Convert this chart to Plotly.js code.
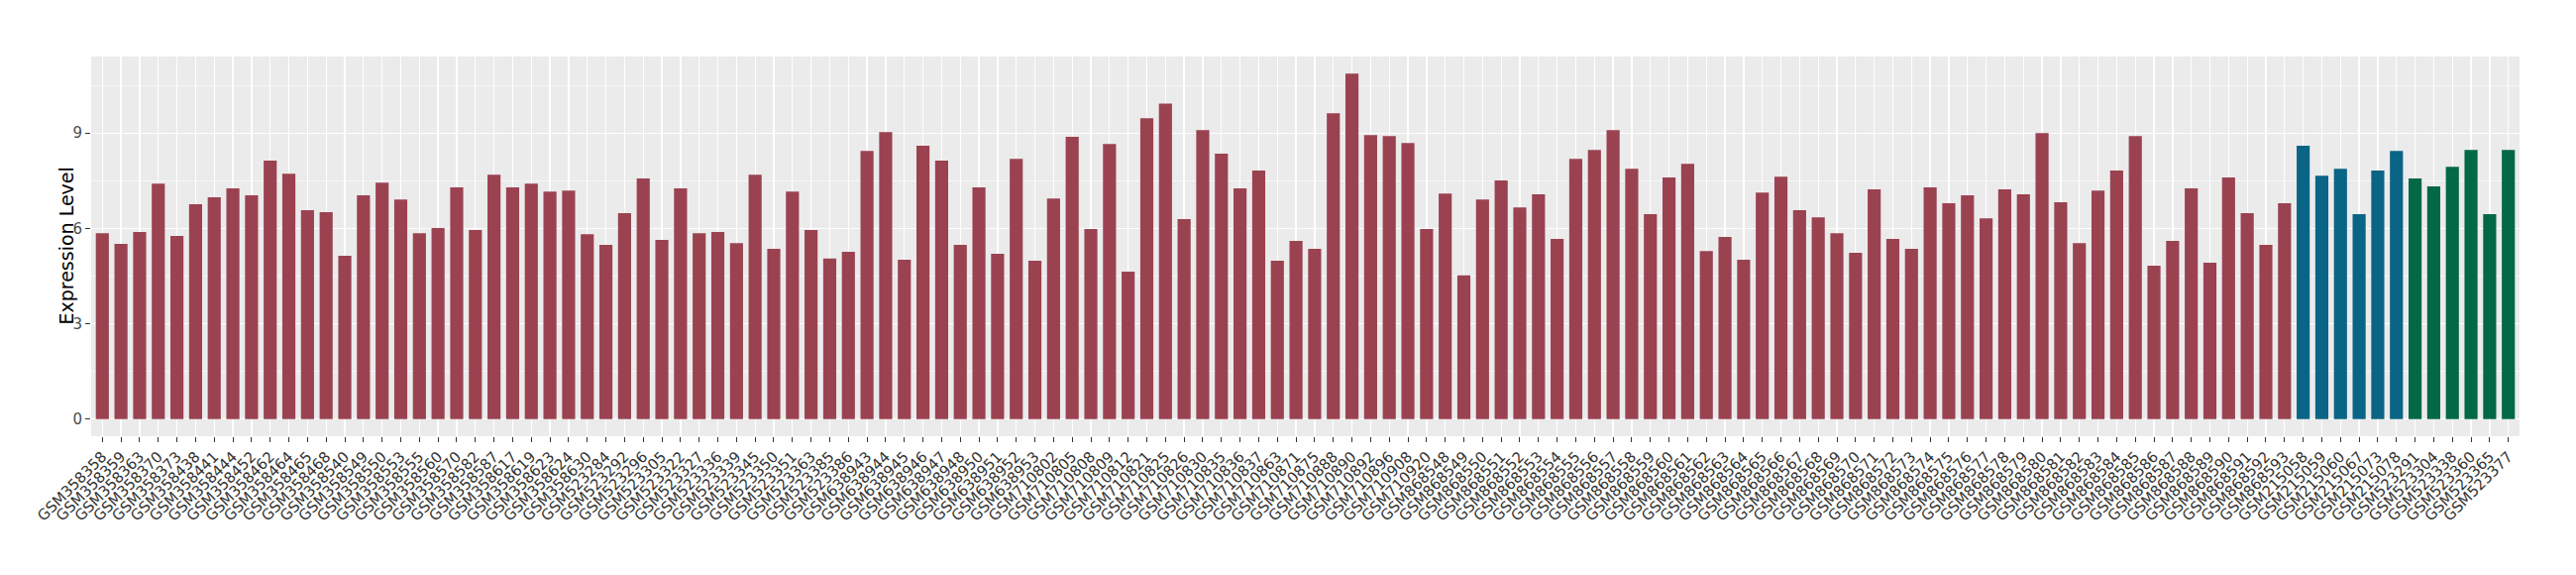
<!DOCTYPE html>
<html>
<head>
<meta charset="utf-8">
<script src="https://cdn.plot.ly/plotly-3.0.1.min.js"></script>
<style>
  html, body { margin: 0; padding: 0; background: #ffffff; }
  #chart { width: 2600px; height: 580px; }
</style>
</head>
<body>
<div id="chart"></div>
<script>
// Sample identifiers (x categories)
const samples = [
  "GSM358358","GSM358359","GSM358363","GSM358370","GSM358373","GSM358438","GSM358441","GSM358444","GSM358452","GSM358462",
  "GSM358464","GSM358465","GSM358468","GSM358540","GSM358549","GSM358550","GSM358553","GSM358555","GSM358560","GSM358570",
  "GSM358582","GSM358587","GSM358617","GSM358619","GSM358623","GSM358624","GSM358630","GSM523284","GSM523292","GSM523296",
  "GSM523305","GSM523322","GSM523327","GSM523336","GSM523339","GSM523345","GSM523350","GSM523351","GSM523363","GSM523385",
  "GSM523386","GSM638943","GSM638944","GSM638945","GSM638946","GSM638947","GSM638948","GSM638950","GSM638951","GSM638952",
  "GSM638953","GSM710802","GSM710805","GSM710808","GSM710809","GSM710812","GSM710821","GSM710825","GSM710826","GSM710830",
  "GSM710835","GSM710836","GSM710837","GSM710863","GSM710871","GSM710875","GSM710888","GSM710890","GSM710892","GSM710896",
  "GSM710908","GSM710920","GSM868548","GSM868549","GSM868550","GSM868551","GSM868552","GSM868553","GSM868554","GSM868555",
  "GSM868556","GSM868557","GSM868558","GSM868559","GSM868560","GSM868561","GSM868562","GSM868563","GSM868564","GSM868565",
  "GSM868566","GSM868567","GSM868568","GSM868569","GSM868570","GSM868571","GSM868572","GSM868573","GSM868574","GSM868575",
  "GSM868576","GSM868577","GSM868578","GSM868579","GSM868580","GSM868581","GSM868582","GSM868583","GSM868584","GSM868585",
  "GSM868586","GSM868587","GSM868588","GSM868589","GSM868590","GSM868591","GSM868592","GSM868593",
  "GSM215058","GSM215059","GSM215060","GSM215067","GSM215073","GSM215078",
  "GSM523291","GSM523304","GSM523338","GSM523360","GSM523365","GSM523377"
];

// Expression level per sample
const expression = [
  5.85,5.51,5.89,7.41,5.76,6.76,6.98,7.26,7.04,8.13,
  7.72,6.57,6.51,5.14,7.04,7.44,6.91,5.85,6.01,7.29,
  5.95,7.69,7.29,7.41,7.16,7.19,5.82,5.48,6.48,7.57,
  5.64,7.26,5.85,5.89,5.54,7.69,5.36,7.16,5.95,5.05,
  5.26,8.44,9.03,5.01,8.60,8.13,5.48,7.29,5.20,8.19,
  4.98,6.94,8.88,5.98,8.66,4.64,9.47,9.93,6.29,9.09,
  8.35,7.26,7.82,4.98,5.61,5.36,9.62,10.87,8.94,8.91,
  8.69,5.98,7.10,4.52,6.91,7.51,6.66,7.07,5.67,8.19,
  8.47,9.09,7.88,6.45,7.60,8.03,5.29,5.73,5.01,7.13,
  7.63,6.57,6.35,5.85,5.23,7.23,5.67,5.36,7.29,6.79,
  7.04,6.32,7.23,7.07,9.00,6.82,5.54,7.19,7.82,8.91,
  4.83,5.61,7.26,4.92,7.60,6.48,5.48,6.79,
  8.60,7.66,7.88,6.45,7.82,8.44,
  7.57,7.32,7.94,8.47,6.45,8.47
];

// Group membership per sample
const groups = [].concat(
  Array(118).fill("A"),
  Array(6).fill("B"),
  Array(6).fill("C")
);

// Y axis tick values / labels
const yTickVals = [0, 3, 6, 9];
const yTickText = ["0", "3", "6", "9"];
const yTitle = "Expression Level";

const groupColors = { A: "#9B4251", B: "#0A6486", C: "#036845" };

const trace = {
  type: "bar",
  x: samples,
  y: expression,
  marker: { color: groups.map(g => groupColors[g]), line: { width: 0 } },
  width: 0.7,
  hoverinfo: "x+y",
  showlegend: false
};

const layout = {
  width: 2600,
  height: 580,
  margin: { l: 92, r: 57, t: 57, b: 140 },
  paper_bgcolor: "#ffffff",
  plot_bgcolor: "#EBEBEB",
  font: { family: "DejaVu Sans, Liberation Sans, sans-serif", color: "#4D4D4D" },
  xaxis: {
    type: "category",
    range: [-0.6, samples.length - 0.4],
    tickangle: -45,
    tickfont: { size: 15, color: "#333333" },
    ticks: "outside",
    ticklen: 5,
    tickcolor: "#333333",
    tickwidth: 1,
    showgrid: true,
    gridcolor: "#FFFFFF",
    gridwidth: 1.3,
    zeroline: false,
    showline: false,
    automargin: false
  },
  yaxis: {
    range: [-0.54, 11.41],
    tickvals: yTickVals,
    ticktext: yTickText,
    tickfont: { size: 15, color: "#4D4D4D" },
    ticks: "outside",
    ticklen: 5,
    tickcolor: "#333333",
    tickwidth: 1,
    showgrid: true,
    gridcolor: "#FFFFFF",
    gridwidth: 1.3,
    minor: { tick0: 1.5, dtick: 3, showgrid: true, gridcolor: "#FFFFFF", gridwidth: 0.6, ticks: "" },
    zeroline: false,
    showline: false,
    automargin: false
  },
  annotations: [{
    text: yTitle,
    xref: "paper", yref: "paper",
    x: -0.0106, y: 0.5,
    xanchor: "center", yanchor: "middle",
    textangle: -90,
    showarrow: false,
    font: { size: 19, color: "#000000" }
  }],
  bargap: 0.3
};

Plotly.newPlot("chart", [trace], layout, { staticPlot: true, displayModeBar: false });
</script>
</body>
</html>
